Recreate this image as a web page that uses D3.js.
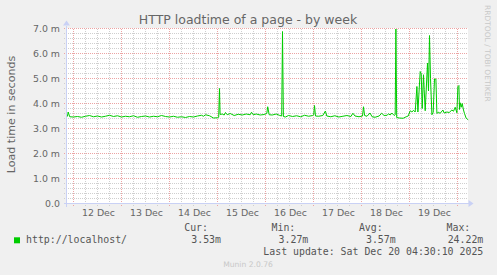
<!DOCTYPE html>
<html>
<head>
<meta charset="utf-8">
<script src="https://cdn.jsdelivr.net/npm/d3@7"></script>
<style>
  html, body { margin: 0; padding: 0; background: #f0f0f0; }
  svg { display: block; }
</style>
</head>
<body>
<svg id="chart" width="497" height="275"></svg>
<script>
// load time in "m" (milliseconds), keyed by hours since 12 Dec 00:00
const loadPoints = [
    [-3.05, 3.48], [-2.65, 3.66], [-1.9, 3.47], [0, 3.46], [2, 3.48], [4, 3.45], [6, 3.49],
    [8, 3.52], [10, 3.47], [12, 3.50], [14, 3.46], [16, 3.49], [18, 3.53], [20, 3.48],
    [22, 3.51], [24, 3.46], [26, 3.49], [28, 3.47], [30, 3.51], [32, 3.45], [34, 3.48],
    [36, 3.50], [38, 3.46], [40, 3.49], [42, 3.47], [44, 3.52], [46, 3.48], [48, 3.46],
    [50, 3.49], [52, 3.45], [54, 3.47], [56, 3.44], [58, 3.48], [60, 3.46], [62, 3.50],
    [64, 3.53], [65, 3.49], [66, 3.55], [68, 3.51], [70, 3.42], [72, 3.43], [72.6, 3.45],
    [73.0, 4.60], [73.3, 3.56], [74.35, 3.58], [75.35, 3.54], [76.0, 3.64], [76.85, 3.55],
    [78.35, 3.60], [80.35, 3.52], [82.35, 3.57], [84.35, 3.54], [86.35, 3.58], [88.35, 3.55],
    [89.0, 3.65], [89.85, 3.55], [91.35, 3.58], [93.35, 3.54], [95.35, 3.56], [96.65, 3.60],
    [97.1, 3.87], [97.85, 3.55], [99.35, 3.54], [101.35, 3.58], [102.85, 3.53], [104.1, 3.50],
    [104.5, 6.88], [104.95, 3.48], [106.0, 3.46], [107.5, 3.52], [109.55, 3.48], [111.55, 3.51],
    [113.55, 3.47], [115.55, 3.53], [117.6, 3.49], [119.6, 3.52], [120.1, 3.55], [120.5, 3.92],
    [121.0, 3.50], [122.6, 3.49], [124.65, 3.52], [125.95, 3.70], [126.65, 3.50], [128.65, 3.47],
    [130.65, 3.51], [132.7, 3.46], [134.7, 3.49], [136.7, 3.52], [138.7, 3.48], [139.7, 3.61],
    [140.75, 3.50], [142.75, 3.47], [144.5, 3.50], [145.0, 3.87], [145.55, 3.52], [146.75, 3.49],
    [148.25, 3.62], [149.3, 3.47], [150.8, 3.45], [152.8, 3.50], [154.1, 3.61], [155.3, 3.52],
    [156.85, 3.53], [157.5, 3.59], [158.35, 3.54], [159.15, 3.62], [160.35, 3.52], [160.85, 3.55],
    [161.2, 6.98], [161.6, 3.44], [162.85, 3.42], [164.85, 3.41], [166.35, 3.47], [167.35, 3.50],
    [168.35, 3.71], [169.2, 3.66], [170.0, 3.73], [170.85, 3.66], [171.7, 4.68], [172.2, 3.66],
    [173.35, 5.28], [173.85, 5.20], [174.35, 3.80], [175.0, 5.15], [175.35, 4.55], [175.85, 3.71],
    [177.0, 5.62], [177.5, 4.50], [178.0, 6.72], [178.5, 5.00], [179.2, 3.55], [179.85, 3.65],
    [180.5, 4.98], [181.2, 4.98], [181.7, 3.60], [182.35, 3.65], [183.35, 3.61], [184.7, 3.74],
    [185.35, 3.62], [186.7, 3.66], [187.85, 3.64], [189.2, 3.74], [190.0, 3.69], [190.85, 3.85],
    [191.7, 3.63], [192.2, 4.68], [192.7, 4.72], [193.0, 3.76], [193.35, 4.03], [193.85, 3.85],
    [194.35, 4.00], [195.0, 3.74], [195.5, 3.60], [196.35, 3.41], [197.35, 3.35]
];

const dayLabels = ['12 Dec', '13 Dec', '14 Dec', '15 Dec', '16 Dec', '17 Dec', '18 Dec', '19 Dec'];
const yTicks = [0, 1, 2, 3, 4, 5, 6, 7];

const seriesName = 'http://localhost/';
const statHeaders = ['Cur:', 'Min:', 'Avg:', 'Max:'];
const statValues = ['3.53m', '3.27m', '3.57m', '24.22m'];
const lastUpdate = 'Last update: Sat Dec 20 04:30:10 2025';

const titleText = 'HTTP loadtime of a page - by week';
const yTitle = 'Load time in seconds';
const watermark = 'Munin 2.0.76';
const sideTag = 'RRDTOOL / TOBI OETIKER';

const day0 = new Date(2025, 11, 12);
const atHour = h => new Date(+day0 + h * 3600e3);

const svg = d3.select('#chart');
const sans = 'DejaVu Sans, sans-serif';
const mono = 'DejaVu Sans Mono, monospace';
const textCol = '#666';
const axisCol = '#c9d1f5';

const x = d3.scaleTime()
    .domain([atHour(-3.25), atHour(197.25)])
    .range([67, 468]);
const y = d3.scaleLinear()
    .domain([0, 7])
    .range([203.5, 28.5]);

const [x0, x1] = x.range();
const [yb, yt] = y.range();

svg.append('rect')
    .attr('width', 497).attr('height', 275)
    .attr('fill', '#f0f0f0');

svg.append('rect')
    .attr('x', x0).attr('y', yt - 0.5)
    .attr('width', x1 - x0).attr('height', yb - yt)
    .attr('fill', '#fff');

// grid
const grid = svg.append('g').attr('shape-rendering', 'crispEdges');
const sixHours = d3.timeHour.every(6).range(x.domain()[0], x.domain()[1]);
const isMidnight = d => d.getHours() === 0;
const minorY = d3.range(1, 35).map(i => i / 5).filter(v => Math.abs(v - Math.round(v)) > 1e-6);

grid.selectAll('line.vminor')
    .data(sixHours.filter(d => !isMidnight(d)))
    .enter().append('line')
    .attr('x1', d => x(d)).attr('x2', d => x(d))
    .attr('y1', yt).attr('y2', yb + 3)
    .attr('stroke', '#cfcfcf')
    .attr('stroke-dasharray', '1,1');

grid.selectAll('line.hminor')
    .data(minorY)
    .enter().append('line')
    .attr('x1', x0 - 3).attr('x2', x1)
    .attr('y1', d => y(d)).attr('y2', d => y(d))
    .attr('stroke', '#cfcfcf')
    .attr('stroke-dasharray', '1,1');

grid.selectAll('line.vmajor')
    .data(sixHours.filter(isMidnight))
    .enter().append('line')
    .attr('x1', d => x(d)).attr('x2', d => x(d))
    .attr('y1', yt).attr('y2', yb + 3)
    .attr('stroke', '#eca4a4')
    .attr('stroke-dasharray', '1,1');

grid.selectAll('line.hmajor')
    .data(yTicks.filter(v => v > 0))
    .enter().append('line')
    .attr('x1', x0 - 3).attr('x2', x1)
    .attr('y1', d => y(d)).attr('y2', d => y(d))
    .attr('stroke', '#eca4a4')
    .attr('stroke-dasharray', '1,1');

// axes
const axes = svg.append('g').attr('shape-rendering', 'crispEdges');
axes.append('line')
    .attr('x1', x0 - 3).attr('x2', x1 + 2)
    .attr('y1', yb).attr('y2', yb)
    .attr('stroke', axisCol);
axes.append('line')
    .attr('x1', x0 - 0.5).attr('x2', x0 - 0.5)
    .attr('y1', yb + 3).attr('y2', yt - 3)
    .attr('stroke', axisCol);

svg.append('path')
    .attr('d', `M${x1 + 5.5},${yb} L${x1 + 0.5},${yb - 3.5} L${x1 + 0.5},${yb + 3.5} Z`)
    .attr('fill', axisCol);
svg.append('path')
    .attr('d', `M${x0 - 0.5},${yt - 8} L${x0 - 4},${yt - 3} L${x0 + 3},${yt - 3} Z`)
    .attr('fill', axisCol);

// tick labels
svg.append('g')
    .selectAll('text')
    .data(yTicks)
    .enter().append('text')
    .attr('x', 60)
    .attr('y', d => y(d) + 3.6)
    .attr('text-anchor', 'end')
    .attr('font-family', sans)
    .attr('font-size', 9.4)
    .attr('fill', textCol)
    .text(d => d === 0 ? '0.0' : `${d.toFixed(1)} m`);

svg.append('g')
    .selectAll('text')
    .data(dayLabels)
    .enter().append('text')
    .attr('x', (d, i) => x(atHour(i * 24 + 12)) + 1)
    .attr('y', 216)
    .attr('text-anchor', 'middle')
    .attr('font-family', sans)
    .attr('font-size', 9.4)
    .attr('fill', textCol)
    .text(d => d);

// series
const line = d3.line()
    .x(d => x(atHour(d[0])))
    .y(d => y(d[1]));

svg.append('path')
    .datum(loadPoints)
    .attr('d', line)
    .attr('fill', 'none')
    .attr('stroke', '#00cc00')
    .attr('stroke-width', 1)
    .attr('stroke-linejoin', 'miter');

// titles
svg.append('text')
    .attr('x', 248).attr('y', 23.5)
    .attr('text-anchor', 'middle')
    .attr('font-family', sans)
    .attr('font-size', 12.5)
    .attr('fill', textCol)
    .text(titleText);

svg.append('text')
    .attr('transform', 'translate(14.5,114.5) rotate(-90)')
    .attr('text-anchor', 'middle')
    .attr('font-family', sans)
    .attr('font-size', 11.1)
    .attr('fill', textCol)
    .text(yTitle);

svg.append('text')
    .attr('transform', 'translate(485,5) rotate(90)')
    .attr('font-family', sans)
    .attr('font-size', 7.5)
    .attr('fill', '#c8c8c8')
    .text(sideTag);

// legend
const colRight = [221, 308.3, 395.7, 483.3];
const legend = svg.append('g')
    .attr('font-family', mono)
    .attr('font-size', 9.9)
    .attr('fill', '#555');

legend.selectAll('text.head')
    .data(statHeaders)
    .enter().append('text')
    .attr('x', (d, i) => colRight[i] - 13)
    .attr('y', 230.7)
    .attr('text-anchor', 'end')
    .text(d => d);

legend.selectAll('text.val')
    .data(statValues)
    .enter().append('text')
    .attr('x', (d, i) => colRight[i])
    .attr('y', 243.4)
    .attr('text-anchor', 'end')
    .text(d => d);

legend.append('rect')
    .attr('x', 14).attr('y', 237.3)
    .attr('width', 6).attr('height', 6)
    .attr('fill', '#00cc00');

legend.append('text')
    .attr('x', 26).attr('y', 243.4)
    .text(seriesName);

legend.append('text')
    .attr('x', colRight[3]).attr('y', 255.3)
    .attr('text-anchor', 'end')
    .text(lastUpdate);

svg.append('text')
    .attr('x', 248).attr('y', 266.8)
    .attr('text-anchor', 'middle')
    .attr('font-family', sans)
    .attr('font-size', 7.6)
    .attr('fill', '#c8c8c8')
    .text(watermark);
</script>
</body>
</html>
